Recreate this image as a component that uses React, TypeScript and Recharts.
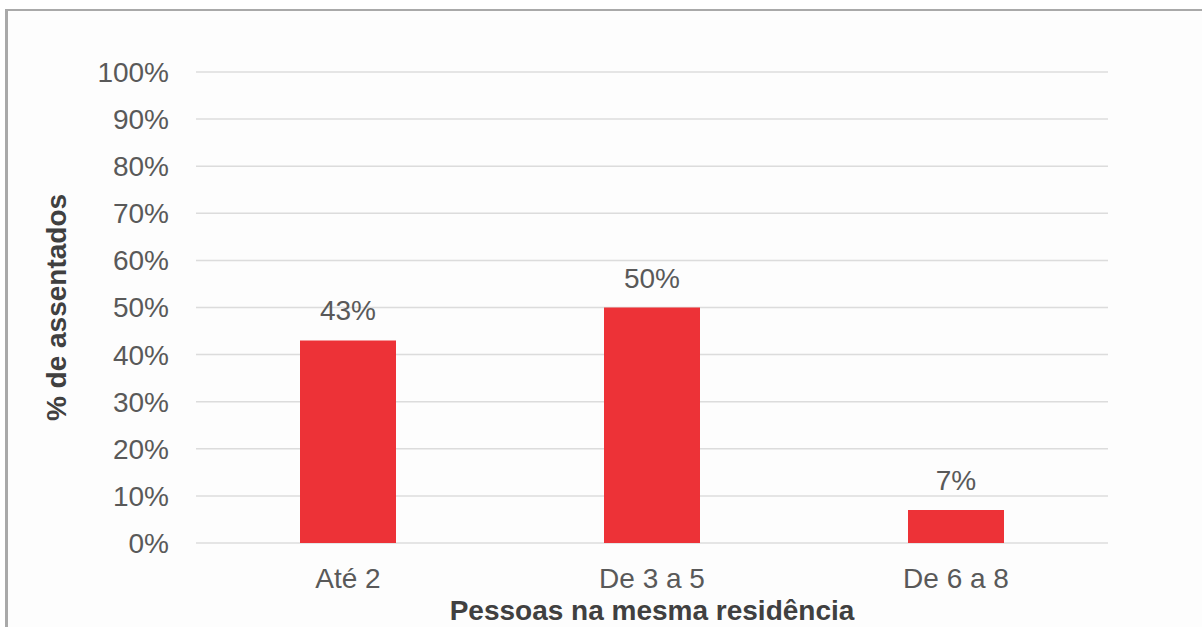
import { Bar, BarChart, CartesianGrid, LabelList, XAxis, YAxis } from "recharts";

const categories = ["Até 2", "De 3 a 5", "De 6 a 8"];
const percentages = [43, 50, 7];
const yTicks = [0, 10, 20, 30, 40, 50, 60, 70, 80, 90, 100];

const data = categories.map((name, i) => ({ name, value: percentages[i] }));

const font = '"Liberation Sans", Arial, sans-serif';

export default function App() {
  return (
    <div
      style={{
        position: "absolute",
        top: 0,
        left: 0,
        width: 1202,
        height: 627,
        overflow: "hidden",
        background: "#fff",
        fontFamily: font,
      }}
    >
      <div
        style={{
          position: "absolute",
          left: 5,
          top: 9,
          width: 1300,
          height: 700,
          borderLeft: "3px solid #a9a9a9",
          borderTop: "2px solid #a9a9a9",
          background: "#fdfdfd",
        }}
      />
      <div style={{ position: "absolute", top: 0, left: 0 }}>
        <BarChart
          width={1202}
          height={627}
          data={data}
          margin={{ top: 72, right: 94, left: 0, bottom: 0 }}
        >
          <CartesianGrid vertical={false} stroke="#dcdcdc" strokeWidth={1.5} />
          <XAxis
            dataKey="name"
            height={84}
            axisLine={false}
            tickLine={false}
            tickSize={0}
            tickMargin={25}
            tick={{ fill: "#595959", fontSize: 28, fontFamily: font }}
            label={{
              value: "Pessoas na mesma residência",
              position: "insideBottom",
              offset: 7,
              fill: "#404040",
              fontSize: 28,
              fontWeight: "bold",
              fontFamily: font,
            }}
          />
          <YAxis
            width={196}
            domain={[0, 100]}
            ticks={yTicks}
            interval={0}
            axisLine={false}
            tickLine={false}
            tickSize={0}
            tickMargin={27}
            tickFormatter={(v: number) => `${v}%`}
            tick={{ fill: "#595959", fontSize: 28, fontFamily: font }}
            label={{
              value: "% de assentados",
              angle: -90,
              position: "center",
              dx: -42,
              fill: "#404040",
              fontSize: 28,
              fontWeight: "bold",
              fontFamily: font,
            }}
          />
          <Bar dataKey="value" fill="#ed3237" barSize={96} isAnimationActive={false}>
            <LabelList
              dataKey="value"
              position="top"
              offset={20}
              formatter={(v: number) => `${v}%`}
              fill="#595959"
              fontSize={28}
              fontFamily={font}
            />
          </Bar>
        </BarChart>
      </div>
    </div>
  );
}
